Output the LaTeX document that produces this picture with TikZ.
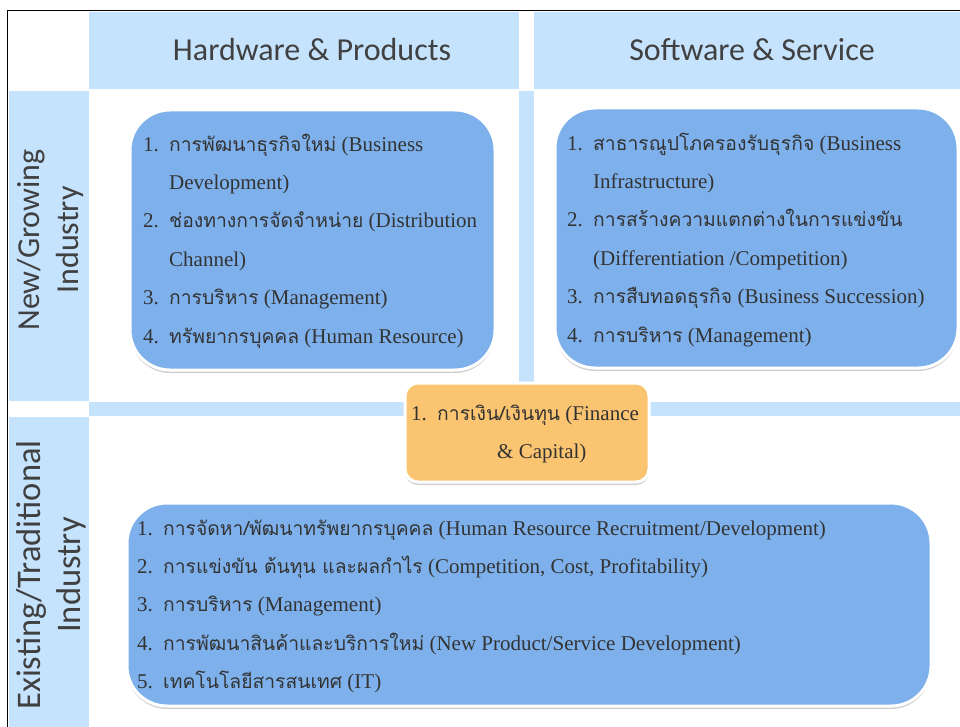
\documentclass[tikz,border=0pt]{standalone}
\usepackage{fontspec}
\setmainfont{Liberation Serif}
\newfontfamily\hdrfont{Carlito}
\newfontfamily\thaifont[Script=Thai,Scale=0.92]{Loma}
\usetikzlibrary{shadows}
\definecolor{laneblue}{HTML}{C6E3FD}
\definecolor{cardblue}{HTML}{7EB1EC}
\definecolor{cardorange}{HTML}{FBC470}
\definecolor{ink}{HTML}{333333}
\definecolor{hdrink}{HTML}{404040}
\newcommand\thx[1]{{\thaifont #1}}
\newcommand\itemno[1]{\makebox[26pt][l]{#1}}
\newcommand\itemgap{\hspace*{26pt}}
\begin{document}
\begin{tikzpicture}[x=1pt,y=-1pt,
  lane/.style={fill=laneblue},
  card/.style={rounded corners=40pt, draw=white, line width=3pt,
    drop shadow={shadow xshift=0pt,shadow yshift=-3pt,opacity=0.18,fill=black},
    inner sep=0pt},
  listtext/.style={anchor=north west, inner sep=0pt, align=left, text=ink,
    font=\fontsize{21}{38.4}\selectfont},
  hdrtext/.style={anchor=base, inner sep=0pt, text=hdrink,
    font=\hdrfont\fontsize{32}{38}\selectfont},
  rowtext/.style={rotate=90, inner sep=0pt, align=center, text=hdrink,
    font=\hdrfont\fontsize{32}{39}\selectfont}]
\useasboundingbox (0,0) rectangle (960,727);
\fill[white] (0,0) rectangle (960,727);

% frame
\draw[line width=1.5pt] (7.5,740) -- (7.5,10.5) -- (970,10.5);

% header cells and separating lanes
\fill[lane] (89,12) rectangle (519,89);
\fill[lane] (534,12) rectangle (962,89);
\fill[lane] (9,91) rectangle (89,401);
\fill[lane] (9,417) rectangle (89,730);
\fill[lane] (519,91) rectangle (534,401);
\fill[lane] (89,402) rectangle (962,416);

\node[hdrtext] (hwhdr) at (312,61) {Hardware \& Products};
\node[hdrtext] (swhdr) at (752,61) {Software \& Service};
\node[rowtext] (newrow) at (50,240) {New/Growing\\Industry};
\node[rowtext, font=\hdrfont\fontsize{34.5}{40}\selectfont] (oldrow) at (51,575) {Existing/Traditional\\Industry};

% cards
\node[card, fill=cardblue, minimum width=365pt, minimum height=260pt] (hwcard) at (312.5,240) {};
\node[card, fill=cardblue, minimum width=403pt, minimum height=260pt] (swcard) at (756.5,238) {};
\node[card, fill=cardblue, minimum width=804pt, minimum height=203pt] (oldcard) at (529,604.5) {};
\node[card, rounded corners=13pt, fill=cardorange, minimum width=244pt, minimum height=99pt] (fincard) at (527,432.5) {};

\node[listtext] (hwlist) at (143,124) {\strut\itemno{1.}\thx{การพัฒนาธุรกิจใหม่} (Business\\
\itemgap Development)\\
\itemno{2.}\thx{ช่องทางการจัดจำหน่าย} (Distribution\\
\itemgap Channel)\\
\itemno{3.}\thx{การบริหาร} (Management)\\
\itemno{4.}\thx{ทรัพยากรบุคคล} (Human Resource)};

\node[listtext] (swlist) at (567,123) {\strut\itemno{1.}\thx{สาธารณูปโภครองรับธุรกิจ} (Business\\
\itemgap Infrastructure)\\
\itemno{2.}\thx{การสร้างความแตกต่างในการแข่งขัน}\\
\itemgap (Differentiation /Competition)\\
\itemno{3.}\thx{การสืบทอดธุรกิจ} (Business Succession)\\
\itemno{4.}\thx{การบริหาร} (Management)};

\node[listtext] (finlist) at (411,393) {\strut\itemno{1.}\thx{การเงิน/เงินทุน} (Finance\\
\hspace*{86pt}\& Capital)};

\node[listtext] (oldlist) at (137,508) {\strut\itemno{1.}\thx{การจัดหา/พัฒนาทรัพยากรบุคคล} (Human Resource Recruitment/Development)\\
\itemno{2.}\thx{การแข่งขัน ต้นทุน และผลกำไร} (Competition, Cost, Profitability)\\
\itemno{3.}\thx{การบริหาร} (Management)\\
\itemno{4.}\thx{การพัฒนาสินค้าและบริการใหม่} (New Product/Service Development)\\
\itemno{5.}\thx{เทคโนโลยีสารสนเทศ} (IT)};
\end{tikzpicture}
\end{document}
